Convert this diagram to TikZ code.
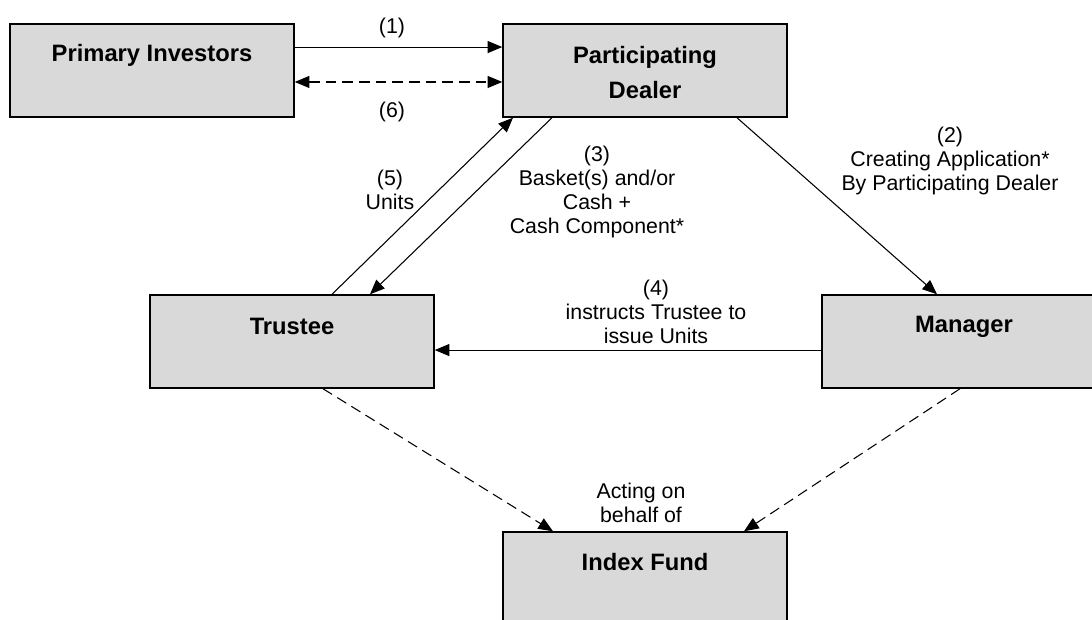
\documentclass[tikz,border=0pt]{standalone}
\usepackage{fontspec}
\setmainfont{Liberation Sans}
\usetikzlibrary{arrows.meta}
\definecolor{boxgray}{RGB}{217,217,217}
\begin{document}
\begin{tikzpicture}[x=0.75pt,y=-0.75pt,
  box/.style={draw=black, fill=boxgray, line width=1.1pt, minimum width=213pt, minimum height=69.75pt, inner sep=0pt},
  boxtext/.style={font=\fontsize{17.8}{26}\selectfont\bfseries, align=center, inner sep=0pt},
  lbl/.style={font=\fontsize{16}{18}\selectfont, align=center, inner sep=0pt},
  conn/.style={line width=0.8pt, -{Triangle[length=11pt,width=9pt]}},
  dconn/.style={conn, dash pattern=on 8pt off 4.5pt},
]
\useasboundingbox (0,0) rectangle (1092,619);
\clip (0,0) rectangle (1092,619);

% boxes
\node[box, label={[boxtext,yshift=11.5pt]center:Primary Investors}] (pi) at (152,70.5) {};
\node[box, label={[boxtext,yshift=-1.5pt]center:Participating\\Dealer}] (pd) at (645,70.5) {};
\node[box, label={[boxtext,yshift=11pt]center:Trustee}] (tr) at (292,341.5) {};
\node[box, label={[boxtext,yshift=11pt]center:Manager}] (mg) at (964,341.5) {};
\node[box, label={[boxtext,yshift=12pt]center:Index Fund}] (idx) at (645,578.5) {};

% connectors
\draw[conn] ([yshift=17.6pt]pi.east) -- ([yshift=17.6pt]pd.west);
\draw[dconn, {Triangle[length=11pt,width=9pt]}-{Triangle[length=11pt,width=9pt]}] ([yshift=-8.6pt]pi.east) -- ([yshift=-8.6pt]pd.west);
\draw[conn] ([xshift=69pt]pd.south) -- ([xshift=-20.25pt]mg.north);
\draw[conn] ([xshift=-69.75pt]pd.south) -- ([xshift=58.5pt]tr.north);
\draw[conn] ([yshift=-6.4pt]mg.west) -- ([yshift=-6.4pt]tr.east);
\draw[conn] ([xshift=30pt]tr.north) -- ([xshift=-99pt]pd.south);
\draw[dconn] ([xshift=23.25pt]tr.south) -- ([xshift=-69pt]idx.north);
\draw[dconn] ([xshift=-3pt]mg.south) -- ([xshift=74.25pt]idx.north);

% labels
\node[lbl] (l1) at (392,28) {(1)};
\node[lbl] (l6) at (392,112) {(6)};
\node[lbl] (l2) at (950,161) {(2)\\Creating Application*\\By Participating Dealer};
\node[lbl] (l3) at (597,191.5) {(3)\\Basket(s) and/or\\Cash +\\Cash Component*};
\node[lbl] (l5) at (390,190) {(5)\\Units};
\node[lbl] (l4) at (656,312) {(4)\\instructs Trustee to\\issue Units};
\node[lbl] (la) at (641,503) {Acting on\\behalf of};
\end{tikzpicture}
\end{document}
